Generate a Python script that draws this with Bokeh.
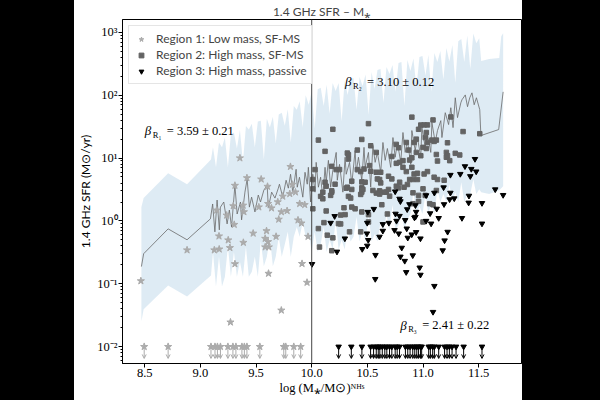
from bokeh.plotting import figure
from bokeh.models import (Range1d, FixedTicker, PrintfTickFormatter, Span, Label,
                          Arrow, OpenHead, ColumnDataSource, Legend, LegendItem, Div)
from bokeh.layouts import row
from bokeh.embed import file_html
from bokeh.resources import INLINE

# ---------------- data ----------------
X_MIN, X_MAX = 8.30, 11.885
Y_MIN, Y_MAX = 0.0054, 1600
X_TICKS = [8.5, 9.0, 9.5, 10.0, 10.5, 11.0, 11.5]
Y_TICKS = [0.01, 0.1, 1, 10, 100, 1000]
Y_TICK_LABELS = ["10⁻²", "10⁻¹", "10⁰", "10¹", "10²", "10³"]
MASS_SPLIT = 10.0
UL_LEVEL = 0.01
UL_END = 0.0065

r1_x = [9.355, 9.809, 9.418, 9.546, 9.310, 9.603, 9.827, 9.803, 9.854, 9.740,
        9.695, 9.146, 9.295, 9.384, 9.525, 9.608, 9.639, 9.728, 9.779, 9.892,
        9.937, 9.236, 9.391, 9.304, 9.704, 9.877, 9.908, 9.167, 9.474, 9.594,
        9.680, 9.250, 9.265, 9.386, 9.582, 9.608, 9.582, 9.615, 9.125, 9.169,
        8.880, 9.310, 9.612, 9.913, 9.958, 9.967, 8.465, 9.727, 9.270]
r1_y = [10.0, 7.3, 4.83, 4.61, 3.66, 3.53, 3.80, 2.70, 2.87, 2.46,
        2.0, 1.48, 1.73, 1.77, 1.66, 1.88, 1.60, 1.39, 1.45, 1.88,
        1.81, 1.23, 1.39, 0.875, 1.06, 1.03, 0.92, 0.573, 0.635, 0.695,
        0.565, 0.496, 0.374, 0.453, 0.525, 0.466, 0.384, 0.384, 0.344, 0.355,
        0.344, 0.207, 0.146, 0.209, 0.105, 0.565, 0.111, 0.0379, 0.0245]

r2_x = [10.19, 10.51, 10.06, 10.90, 11.09, 11.25, 11.36, 11.51, 10.98, 11.01,
        11.04, 10.96, 11.03, 10.45, 10.32, 10.12, 10.41, 10.53, 10.58, 10.76,
        10.78, 10.85, 10.92, 10.94, 11.02, 11.04, 11.08, 11.10, 11.12, 11.00,
        11.03, 11.22, 11.21, 11.22, 11.29, 11.33, 10.87, 10.94, 10.98, 10.72,
        10.82, 10.88, 10.90, 11.12, 11.13, 10.33, 10.33, 10.18, 10.22, 10.25,
        10.03, 10.01, 10.12, 10.13, 10.21, 10.18, 10.36, 10.41, 10.44, 10.47,
        10.52, 10.58, 10.62, 10.76, 10.79, 10.45, 10.48, 10.61, 10.62, 10.69,
        10.82, 10.85, 10.90, 10.92, 10.95, 11.01, 11.04, 11.10, 11.13, 11.19,
        10.72, 10.79, 10.76, 10.88, 10.91, 10.95, 10.86, 10.61, 10.58, 10.67,
        10.45, 10.45, 10.32, 10.10, 11.00, 11.02, 11.12, 10.91, 10.96,
        10.01, 10.01, 10.31, 10.36, 10.46, 10.18, 10.17, 10.08, 10.10, 10.33,
        10.35, 10.44, 10.55, 10.61, 10.65, 10.69, 10.70, 10.36, 10.39, 10.29,
        10.13, 10.26, 10.30, 10.63, 10.45, 10.51, 10.51, 10.68, 10.24, 10.26,
        10.11, 10.06, 10.34, 10.44, 10.14, 10.19, 10.07, 10.18, 10.96, 10.91,
        11.06, 11.09, 11.00, 10.78, 10.83, 10.59, 10.53, 11.21, 11.24]
r2_y = [28.7, 35.3, 19.3, 44.8, 40.4, 45.1, 26.4, 24.4, 33.5, 33.7,
        33.7, 28.7, 25.5, 19.8, 12.0, 12.8, 13.4, 15.7, 12.3, 16.5,
        14.6, 17.7, 17.7, 20.0, 21.2, 17.7, 19.3, 18.4, 19.3, 14.8,
        14.2, 17.5, 12.3, 10.9, 11.9, 11.2, 13.4, 12.3, 10.9, 10.6,
        9.10, 9.30, 10.1, 11.4, 8.97, 11.3, 9.64, 7.39, 6.56, 6.56,
        6.56, 4.56, 4.13, 3.57, 3.84, 3.01, 4.29, 6.56, 6.10, 6.70,
        7.59, 5.95, 5.95, 8.25, 8.55, 4.18, 4.13, 4.56, 4.03, 5.14,
        7.13, 6.10, 7.13, 5.58, 5.73, 5.58, 6.10, 4.96, 4.56, 4.44,
        4.66, 4.13, 3.57, 4.56, 4.56, 4.56, 3.80, 3.01, 2.77, 2.87,
        3.36, 2.87, 3.44, 2.87, 3.24, 2.55, 3.05, 2.80, 2.55,
        3.24, 1.56, 3.32, 3.17, 3.17, 2.87, 2.55, 2.46, 2.25, 2.46,
        2.31, 2.64, 3.05, 2.67, 2.87, 3.17, 2.48, 1.66, 1.56, 1.62,
        1.44, 1.24, 1.26, 1.81, 1.39, 1.26, 0.964, 1.29, 0.906, 0.897,
        0.94, 0.756, 0.67, 0.67, 0.594, 0.539, 0.384, 0.336, 2.05, 1.88,
        1.88, 1.81, 0.964, 3.36, 3.44, 4.66, 6.17, 10.3, 9.10]

r3_x = [11.467, 11.377, 11.434, 11.478, 11.335, 11.246, 11.425, 11.185, 11.281, 11.246,
        11.239, 11.102, 11.028, 10.789, 10.797, 10.750, 10.878, 10.932, 11.189, 11.413,
        11.410, 11.530, 11.649, 11.720, 10.558, 10.753, 10.789, 10.858, 10.938, 10.932,
        11.123, 11.064, 10.206, 10.504, 10.170, 10.298, 10.499, 10.639, 10.693, 10.762,
        10.840, 10.923, 11.028, 11.073, 11.141, 11.350, 11.530, 10.639, 10.744, 10.782,
        10.854, 10.938, 10.899, 10.863, 10.977, 11.221, 11.194, 10.496, 10.609, 10.508,
        10.499, 10.454, 10.227, 10.573, 10.809, 10.797, 10.836, 10.908, 11.177, 10.970,
        10.977, 10.849, 10.571, 11.102, 10.003, 11.090]
r3_y = [9.64, 7.39, 6.70, 6.10, 5.58, 5.39, 5.14, 3.41, 2.28, 2.80,
        2.20, 2.80, 2.55, 2.25, 2.05, 2.94, 1.84, 1.77, 1.84, 2.51,
        1.95, 1.92, 3.17, 2.58, 1.55, 1.30, 1.20, 1.53, 1.39, 1.16,
        1.56, 1.32, 1.19, 1.39, 0.93, 0.525, 0.93, 0.887, 0.93, 1.0,
        1.03, 1.13, 1.0, 0.906, 1.11, 1.11, 0.906, 0.695, 0.713, 0.63,
        0.756, 0.663, 0.608, 0.539, 0.525, 0.67, 0.489, 0.63, 0.559, 0.496,
        0.403, 0.357, 0.324, 0.287, 0.374, 0.27, 0.231, 0.283, 0.34, 0.181,
        0.139, 0.153, 0.119, 0.0923, 0.206, 0.0356]

ul1_x = [8.495, 8.710, 9.095, 9.131, 9.153, 9.180, 9.247, 9.292, 9.319, 9.373,
         9.395, 9.418, 9.534, 9.749, 9.767, 9.839, 9.901]
ul3_x = [10.242, 10.356, 10.451, 10.529, 10.556, 10.580, 10.598, 10.612, 10.634, 10.657,
         10.675, 10.699, 10.720, 10.750, 10.768, 10.789, 10.842, 10.863, 10.884, 10.908,
         10.926, 10.944, 10.959, 10.977, 10.988, 11.051, 11.066, 11.087, 11.102, 11.141,
         11.194, 11.216, 11.237, 11.261, 11.297, 11.365, 11.530]

band_x = [8.47, 8.49, 8.71, 8.88,
          9.095, 9.113, 9.140, 9.167, 9.194, 9.220, 9.247, 9.274, 9.301, 9.328,
          9.355, 9.382, 9.409, 9.435, 9.462, 9.489, 9.516, 9.543, 9.570, 9.597,
          9.624, 9.651, 9.677, 9.704, 9.731, 9.758, 9.785, 9.812, 9.839, 9.866,
          9.892, 9.919, 9.946, 9.973, 10.000, 10.027, 10.054, 10.081, 10.108, 10.134,
          10.161, 10.188, 10.215, 10.242, 10.269, 10.296, 10.323, 10.349, 10.376, 10.403,
          10.430, 10.457, 10.484, 10.511, 10.538, 10.565, 10.591, 10.618, 10.645, 10.672,
          10.699, 10.726, 10.753, 10.780, 10.806, 10.833, 10.860, 10.887, 10.914, 10.941,
          10.968, 10.995, 11.022, 11.048, 11.075, 11.102, 11.129, 11.156, 11.183, 11.210,
          11.237, 11.264, 11.290, 11.317, 11.344, 11.371, 11.398, 11.425, 11.452, 11.479,
          11.505, 11.523, 11.595, 11.685, 11.703, 11.720]
band_hi = [1.66, 2.31, 5.73, 3.84,
           9.53, 14.8, 7.13, 17.7, 14.8, 21.2, 7.13, 23.7, 25.5, 14.2,
           27.9, 8.55, 32.4, 28.4, 35.3, 14.8, 38.0, 39.4, 9.5, 42.4,
           30.5, 45.6, 17.1, 49.2, 52.7, 32.8, 60.0, 17.7, 67.3, 58.8,
           80.3, 30.5, 100, 70.5, 113, 29.5, 124, 131, 67.3, 146,
           50.9, 157, 117, 157, 38.0, 169, 101, 182, 186, 58.8,
           195, 140, 214, 49.0, 234, 126, 251, 261, 75.9, 281,
           218, 302, 113, 325, 338, 67.3, 364, 243, 382, 131,
           405, 420, 206, 437, 113, 468, 338, 505, 178, 561,
           345, 627, 157, 723, 780, 338, 890, 261, 960, 673,
           807, 349, 376, 390, 867, 968]
band_lo = [0.0254, 0.0393, 0.094, 0.063,
           0.135, 0.32, 0.0906, 0.27, 0.0906, 0.13, 0.39, 0.13, 0.32, 0.13,
           0.225, 0.13, 0.39, 0.13, 0.156, 0.27, 0.13, 0.47, 0.19, 0.27,
           0.56, 0.19, 0.27, 0.56, 0.27, 0.42, 0.67, 0.27, 0.56, 0.80,
           0.56, 0.96, 0.56, 0.67, 0.32, 0.67, 0.32, 0.43, 0.80, 0.32,
           0.50, 0.35, 1.04, 0.35, 0.50, 0.35, 0.775, 0.47, 0.56, 1.16,
           0.47, 0.72, 0.47, 1.29, 0.47, 0.62, 0.47, 0.96, 0.72, 1.24,
           0.72, 1.79, 0.72, 0.86, 1.39, 0.72, 1.04, 1.29, 2.87, 1.29,
           1.73, 1.29, 2.67, 1.29, 2.0, 1.29, 3.20, 2.0, 2.67, 2.0,
           3.84, 2.0, 2.87, 2.0, 4.13, 2.0, 2.67, 2.67, 4.61, 2.67,
           3.20, 2.87, 2.67, 3.09, 3.32, 3.57]

line_x = [8.47, 8.49, 8.71, 8.88, 9.09, 9.11, 9.13, 9.15, 9.17, 9.18,
          9.21, 9.24, 9.26, 9.28, 9.31, 9.33, 9.36, 9.37, 9.40, 9.42,
          9.44, 9.46, 9.49, 9.52, 9.54, 9.57, 9.60, 9.61, 9.64, 9.67,
          9.70, 9.71, 9.74, 9.77, 9.79, 9.81, 9.83, 9.86, 9.87, 9.89,
          9.92, 9.94, 9.96, 9.97, 9.99, 10.01, 10.03, 10.04, 10.06, 10.08,
          10.10, 10.12, 10.13, 10.15, 10.17, 10.19, 10.22, 10.23, 10.25, 10.28,
          10.30, 10.31, 10.34, 10.36, 10.39, 10.40, 10.42, 10.45, 10.47, 10.48,
          10.51, 10.53, 10.55, 10.57, 10.59, 10.62, 10.64, 10.66, 10.68, 10.71,
          10.73, 10.75, 10.77, 10.80, 10.82, 10.84, 10.86, 10.89, 10.90, 10.93,
          10.95, 10.98, 10.99, 11.02, 11.04, 11.07, 11.08, 11.11, 11.13, 11.16,
          11.17, 11.20, 11.23, 11.25, 11.27, 11.29, 11.31, 11.34, 11.35, 11.38,
          11.40, 11.42, 11.44, 11.46, 11.48, 11.51, 11.52, 11.68, 11.72]
line_y = [0.188, 0.301, 0.748, 0.501, 1.08, 1.86, 0.67, 2.15, 0.721, 1.66,
          2.0, 0.897, 1.49, 0.80, 3.70, 1.29, 2.0, 1.04, 2.87, 4.61,
          1.66, 2.39, 1.39, 2.58, 2.0, 3.09, 3.70, 1.60, 2.87, 2.31,
          3.32, 3.84, 2.39, 4.44, 3.32, 5.53, 2.87, 6.63, 3.44, 4.96,
          2.39, 5.94, 3.84, 7.13, 2.0, 5.53, 2.87, 8.55, 3.44, 4.96,
          2.39, 7.13, 4.13, 9.2, 3.44, 6.4, 12.3, 4.44, 7.95, 2.87,
          10.3, 5.53, 8.55, 3.84, 13.2, 5.94, 10.3, 4.44, 14.8, 7.13,
          12.3, 3.44, 15.9, 8.55, 12.3, 5.94, 17.7, 9.2, 14.2, 7.13,
          21.2, 10.3, 17.7, 8.55, 25.5, 12.3, 19.0, 7.95, 27.4, 13.2,
          21.2, 10.3, 30.5, 14.8, 23.7, 12.3, 36.6, 17.7, 27.4, 39.4,
          21.2, 52.7, 34.1, 63.2, 30.5, 91, 44, 75.9, 84.6, 101,
          65.6, 91, 109, 70.5, 91, 58.8, 22.8, 28.4, 113]

legend_labels = ["Region 1: Low mass, SF-MS", "Region 2: High mass, SF-MS",
                 "Region 3: High mass, passive"]
beta_texts = ["= 3.59 ± 0.21", "= 3.10 ± 0.12", "= 2.41 ± 0.22"]
beta_subs = ["R₁", "R₂", "R₃"]
beta_x = [8.50, 10.30, 10.795]
beta_y = [27.4, 163, 0.0219]

C_R1 = "#ababab"
C_R2 = "#636363"
C_R3 = "#000000"
SERIF = "Liberation Serif"
SANS = "Lato"

# ---------------- figure ----------------
p = figure(width=448, height=400, x_range=Range1d(X_MIN, X_MAX),
           y_range=Range1d(Y_MIN, Y_MAX), y_axis_type="log",
           output_backend="svg", toolbar_location=None,
           min_border_left=48, min_border_right=1, min_border_top=16,
           min_border_bottom=37)
p.grid.visible = False
p.outline_line_color = "black"
p.outline_line_width = 1
p.background_fill_color = "white"
p.border_fill_color = "white"

p.title.text = "1.4 GHz SFR – M⁎"
p.title.align = "center"
p.title.text_font = SANS
p.title.text_font_size = "12px"
p.title.text_font_style = "normal"
p.title.standoff = 2

p.varea(x=band_x, y1=band_lo, y2=band_hi, fill_color="#1f77b4", fill_alpha=0.15)
p.line(line_x, line_y, line_color="#6a6a6a", line_width=0.8)
p.add_layout(Span(location=MASS_SPLIT, dimension="height", line_color="#444444",
                  line_width=1))

r1 = p.scatter(r1_x, r1_y, marker="star", size=7.5, fill_color=C_R1, line_color=C_R1)
r2 = p.scatter(r2_x, r2_y, marker="square", size=4.5, fill_color=C_R2, line_color=C_R2)
r3 = p.scatter(r3_x, r3_y, marker="inverted_triangle", size=5.5, fill_color=C_R3,
               line_color=C_R3)

# upper limits
for xs, col, mk, sz in [(ul1_x, C_R1, "star", 7.5), (ul3_x, C_R3, "inverted_triangle", 5.5)]:
    src = ColumnDataSource(dict(x=xs, y0=[UL_LEVEL] * len(xs), y1=[UL_END] * len(xs)))
    p.add_layout(Arrow(end=OpenHead(size=4, line_color=col, line_width=1),
                       x_start="x", y_start="y0", x_end="x", y_end="y1",
                       source=src, line_color=col, line_width=1))
    p.scatter("x", "y0", source=src, marker=mk, size=sz, fill_color=col, line_color=col)

# axes
p.xaxis.ticker = FixedTicker(ticks=X_TICKS, minor_ticks=[])
p.xaxis.formatter = PrintfTickFormatter(format="%.1f")
minor = [m * 10.0 ** e for e in range(-3, 4) for m in range(2, 10)]
p.yaxis.ticker = FixedTicker(ticks=Y_TICKS, minor_ticks=minor)
p.yaxis.major_label_overrides = dict(zip(Y_TICKS, Y_TICK_LABELS))
for ax in (p.xaxis, p.yaxis):
    ax.major_label_text_font = SERIF
    ax.major_label_text_font_size = "12.5px"
    ax.major_label_text_color = "black"
    ax.major_tick_in = 0
    ax.major_tick_out = 4
    ax.minor_tick_in = 0
    ax.minor_tick_out = 2
    ax.axis_line_color = "black"
    ax.major_tick_line_color = "black"
    ax.minor_tick_line_color = "black"
    ax.major_label_standoff = 1
    ax.axis_label_standoff = 1
    ax.axis_label_text_font_style = "normal"
    ax.axis_label_text_color = "black"
p.yaxis.axis_label = "1.4 GHz SFR (M⊙/yr)"
p.yaxis.axis_label_text_font = SANS
p.yaxis.axis_label_text_font_size = "12px"
p.xaxis.axis_label = "log (M⁎/M⊙)ᴺᴴˢ"
p.xaxis.axis_label_text_font = SERIF
p.xaxis.axis_label_text_font_size = "12.5px"

# beta annotations
for bx, by, sub, txt in zip(beta_x, beta_y, beta_subs, beta_texts):
    p.add_layout(Label(x=bx, y=by, text="β", text_font=SERIF, text_font_style="italic",
                       text_font_size="13px", text_baseline="middle", text_color="black"))
    p.add_layout(Label(x=bx, y=by, x_offset=8, y_offset=-4, text=sub, text_font=SERIF,
                       text_font_size="8.5px", text_baseline="middle", text_color="black"))
    p.add_layout(Label(x=bx, y=by, x_offset=22, text=txt, text_font=SERIF,
                       text_font_size="12.5px", text_baseline="middle", text_color="black"))

legend = Legend(items=[LegendItem(label=legend_labels[0], renderers=[r1]),
                       LegendItem(label=legend_labels[1], renderers=[r2]),
                       LegendItem(label=legend_labels[2], renderers=[r3])],
                location="top_left")
legend.label_text_font = SANS
legend.label_text_font_size = "12px"
legend.glyph_width = 14
legend.glyph_height = 12
legend.spacing = 1
legend.padding = 5
legend.margin = 6
legend.label_standoff = 8
legend.border_line_color = "#cccccc"
legend.background_fill_alpha = 0.85
p.add_layout(legend)

left = Div(text="", width=74, height=400, margin=0, styles={"background-color": "black"})
right = Div(text="", width=78, height=400, margin=0, styles={"background-color": "black"})
layout = row(left, p, right)

open("out.html", "w").write(file_html(layout, INLINE))
